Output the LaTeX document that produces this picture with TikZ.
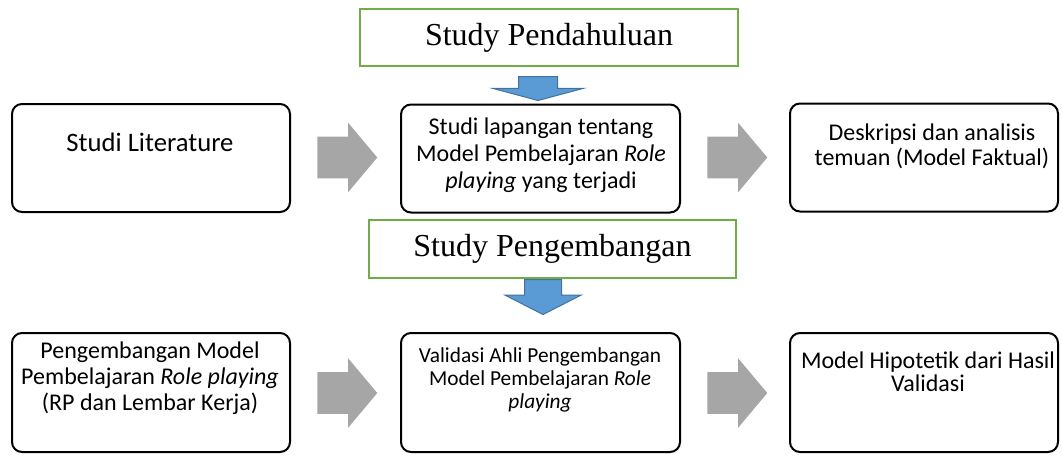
\documentclass[tikz,border=0pt]{standalone}
\usepackage{fontspec}
\setmainfont{Carlito}
\newfontfamily\serifttl{Liberation Serif}
\usetikzlibrary{shapes.arrows}

\definecolor{ttlgreen}{HTML}{70AD47}
\definecolor{arrblue}{HTML}{5B9BD5}
\definecolor{arrblueline}{HTML}{41719C}
\definecolor{arrgray}{HTML}{A6A6A6}

\tikzset{
  box/.style={draw, line width=1.5pt, rounded corners=7.5pt, minimum width=208.5pt, inner sep=0pt},
  txt/.style={align=center, font=\fontsize{18}{19.5}\selectfont, inner sep=0pt},
  ttl/.style={draw=ttlgreen, line width=1.5pt, minimum height=43pt, font=\serifttl\fontsize{24}{28}\selectfont},
  grayarr/.style={single arrow, fill=arrgray, anchor=tail, inner xsep=0pt, inner ysep=15.375pt, minimum height=45pt, single arrow head extend=10.5pt, single arrow tip angle=100},
  bluearr/.style={single arrow, fill=arrblue, draw=arrblueline, line width=0.75pt, anchor=tail, inner xsep=0pt, rotate=-90}
}

\begin{document}
\begin{tikzpicture}[x=0.75pt, y=-0.75pt]
            \useasboundingbox (0,0) rectangle (1062,454);

            % tahap 1
            \node[ttl, minimum width=283.5pt] (pend) at (549,37.5) {Study Pendahuluan};
            \node[bluearr, minimum height=18pt, inner ysep=14.25pt, single arrow head extend=19.5pt, single arrow tip angle=150] (down1) at (538,76) {};

            \node[box, minimum height=81pt] (lit) at (151,158) {};
            \node[box, minimum width=209.25pt, minimum height=81pt] (field) at (540.5,158.5) {};
            \node[box, minimum width=201pt, minimum height=81pt] (desc) at (924,157.5) {};

            \node[txt, font=\fontsize{20}{21}\selectfont] (litT) at (150,142) {Studi Literature};
            \node[txt, font=\fontsize{18}{20.25}\selectfont] (fieldT) at (541,155) {Studi lapangan tentang\\Model Pembelajaran \textit{Role}\\\textit{playing} yang terjadi};
            \node[txt, font=\fontsize{18}{18.75}\selectfont] (descT) at (932,146) {Deskripsi dan analisis\\temuan (Model Faktual)};

            \node[grayarr] (right1) at (317,157.5) {};
            \node[grayarr] (right2) at (707,157.5) {};

            % tahap 2
            \node[ttl, minimum width=275.25pt, minimum height=43.5pt] (peng) at (552.5,249) {Study Pengembangan};
            \node[bluearr, minimum height=26.25pt, inner ysep=13.5pt, single arrow head extend=14.625pt, single arrow tip angle=126] (down2) at (543,279) {};

            \node[box, minimum height=89.25pt] (dev) at (151,392.5) {};
            \node[box, minimum width=209.25pt, minimum height=89.25pt] (valid) at (540.5,392.5) {};
            \node[box, minimum width=201pt, minimum height=89.25pt] (hyp) at (924,392.5) {};

            \node[txt] (devT) at (150,378) {Pengembangan Model\\Pembelajaran \textit{Role playing}\\(RP dan Lembar Kerja)};
            \node[txt, font=\fontsize{16}{17.25}\selectfont] (validT) at (540,380) {Validasi Ahli Pengembangan\\Model Pembelajaran \textit{Role}\\\textit{playing}};
            \node[txt, font=\fontsize{18}{17.5}\selectfont] (hypT) at (928,371.5) {Model Hipotetik dari Hasil\\Validasi};

            \node[grayarr] (right3) at (317,393) {};
            \node[grayarr] (right4) at (707,393) {};
\end{tikzpicture}
\end{document}
